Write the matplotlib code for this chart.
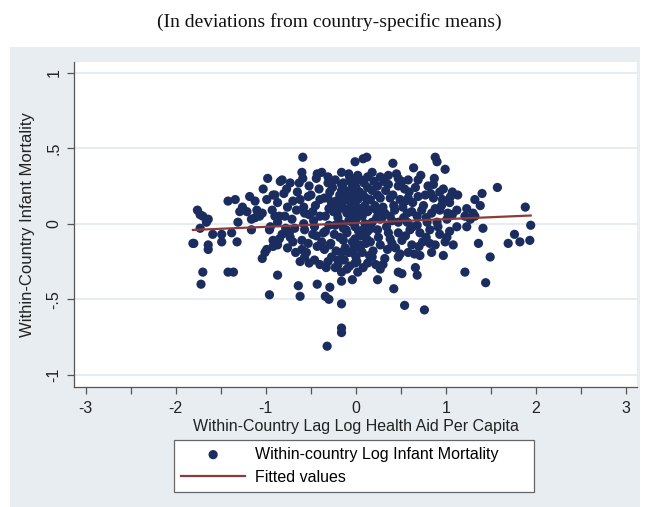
import matplotlib
matplotlib.use("Agg")
import matplotlib.pyplot as plt
from matplotlib.ticker import FixedLocator

# ---- data ----
left_x = [-1.80, -1.76, -1.70, -1.64, -1.70, -1.72, -1.42, -1.36, -0.96, -1.04, -1.01, -1.64,
          -0.98, -1.42, -1.34, -1.18, -1.12, -0.99, -0.92, -1.26, -1.21, -1.10, -1.04, -1.07,
          -1.12, -1.16, -1.29, -1.73, -1.66, -1.31, -1.73, -1.59, -1.49, -1.38, -1.16, -0.96,
          -0.92, -1.81, -1.64, -1.49, -1.32, -0.99, -0.92]
left_y = [-0.13, 0.09, 0.05, 0.03, -0.32, -0.40, -0.32, -0.32, -0.47, -0.23, -0.19, -0.17,
          0.30, 0.15, 0.16, 0.18, 0.15, 0.16, 0.19, 0.11, 0.08, 0.09, 0.07, 0.05,
          0.04, 0.03, 0.08, 0.06, 0.01, 0.01, -0.03, -0.07, -0.07, -0.06, -0.04, -0.04,
          -0.11, -0.13, -0.14, -0.12, -0.12, -0.17, -0.15]

right_x = [1.57, 1.13, 1.40, 1.32, 1.38, 1.23, 1.30, 1.21, 1.27, 1.32, 1.88, 1.12, 1.94, 1.41,
           1.23, 1.12, 1.36, 1.76, 1.69, 1.82, 1.93, 1.49, 1.21, 1.44]
right_y = [0.24, 0.19, 0.20, 0.16, 0.12, 0.10, 0.07, 0.05, 0.03, 0.05, 0.11, 0.09, -0.01, -0.03,
           -0.02, -0.02, -0.13, -0.07, -0.13, -0.12, -0.11, -0.22, -0.32, -0.39]

low_x = [0.97, 0.66, 0.68, 0.47, 0.51, 0.24, 0.42, 0.54, 0.76, 0.30, 0.27, 0.32, 0.18, 0.13,
         0.47, 0.58, 0.71, 0.84, -0.87, -0.64, -0.62, -0.43, -0.29, -0.34, -0.30, -0.16,
         -0.16, -0.16, -0.32, -0.60, -0.57, -0.46, -0.31, -0.20, -0.16, -0.04, 0.07, -0.23,
         -0.16, -0.10, -0.04, -0.16, 0.02, -0.01]
low_y = [-0.21, -0.29, -0.34, -0.32, -0.33, -0.37, -0.43, -0.54, -0.57, -0.27, -0.30, -0.23,
         -0.22, -0.26, -0.22, -0.19, -0.21, -0.19, -0.34, -0.41, -0.48, -0.40, -0.42, -0.48,
         -0.50, -0.53, -0.72, -0.69, -0.81, -0.17, -0.22, -0.24, -0.25, -0.24, -0.19, -0.19,
         -0.19, -0.29, -0.32, -0.30, -0.37, -0.38, -0.32, -0.26]

top_x = [-0.59, -0.01, 0.08, -0.82, -0.73, -0.60, -0.59, -0.43, -0.38, -0.31, -0.16, -0.07,
         -0.26, -0.16, -0.04, -0.01, 0.12, 0.41, 0.64, 0.88, 0.90, 0.99]
top_y = [0.44, 0.41, 0.43, 0.29, 0.27, 0.34, 0.30, 0.33, 0.34, 0.31, 0.34, 0.31,
         0.24, 0.26, 0.25, 0.28, 0.44, 0.40, 0.37, 0.44, 0.41, 0.36]

core_w_x = [-0.84, -0.90, -0.76, -0.87, -0.62, -0.53, -0.79, -0.71, -0.87, -0.57, -0.48, -0.40,
            -0.31, -0.27, -0.18, -0.10, -0.04, 0.02, 0.08, -0.20, -0.10, -0.03, 0.04, -0.68,
            -0.57, -0.46, -0.34, -0.23, -0.14, -0.01, 0.08, -0.82, -0.73, -0.60, -0.53, -0.38,
            -0.29, -0.18, -0.04, 0.04, -0.87, -0.76]
core_w_y = [0.28, 0.19, 0.11, 0.14, 0.16, 0.18, 0.05, 0.03, 0.01, 0.07, 0.08, 0.05,
            0.17, 0.14, 0.19, 0.16, 0.19, 0.16, 0.19, 0.11, 0.07, 0.09, 0.06, -0.03,
            -0.04, -0.02, -0.05, -0.01, -0.03, -0.02, -0.04, -0.07, -0.09, -0.11, -0.13, -0.12,
            -0.14, -0.09, -0.12, -0.14, -0.14, -0.16]

core_e_x = [0.18, 0.27, 0.36, 0.47, 0.58, 0.69, 0.13, 0.24, 0.36, 0.47, 0.54, 0.66, 0.80, 0.86,
            0.97, 1.07, 0.16, 0.27, 0.38, 0.49, 0.58, 0.69, 0.77, 0.86, 0.96, 1.04, 0.13, 0.23,
            0.32, 0.43, 0.52, 0.62, 0.73, 0.84, 0.93, 1.07, 0.18, 0.27, 0.38, 0.47, 0.57, 0.68,
            0.79, 0.90, 1.01, 0.13, 0.24, 0.36, 0.47, 0.60, 0.71, 0.82, 0.93, 1.04, 0.16, 0.27,
            0.40, 0.51, 0.62, 0.74, 0.88, 0.99, 1.08]
core_e_y = [0.34, 0.31, 0.32, 0.30, 0.29, 0.29, 0.24, 0.25, 0.26, 0.25, 0.23, 0.24, 0.25, 0.26,
            0.23, 0.21, 0.16, 0.17, 0.17, 0.16, 0.17, 0.18, 0.19, 0.17, 0.16, 0.14, 0.08, 0.09,
            0.07, 0.09, 0.11, 0.08, 0.09, 0.07, 0.09, 0.06, 0.01, 0.03, 0.05, 0.01, 0.01, -0.01,
            0.01, 0.01, 0.03, -0.05, -0.04, -0.06, -0.06, -0.04, -0.06, -0.04, -0.07, -0.05,
            -0.12, -0.14, -0.13, -0.11, -0.14, -0.12, -0.14, -0.12, -0.14]

center_x = [-0.12, -0.05, 0.00, 0.05, -0.08, 0.00, 0.06, -0.10, -0.02, 0.10, -0.15, 0.02,
            -0.06, 0.09, -0.20, -0.25, -0.30, -0.12, 0.12, 0.00]
center_y = [0.22, 0.12, 0.24, 0.10, 0.02, 0.03, -0.08, -0.06, -0.15, 0.12, 0.14, 0.32,
            0.28, 0.27, 0.04, 0.08, 0.10, -0.16, -0.10, -0.22]

dense_x = [-0.33, -0.27, -0.20, -0.13, -0.07, 0.01, 0.08, 0.15, 0.22,
           -0.35, -0.28, -0.22, -0.14, -0.08, -0.01, 0.05, 0.11, 0.19, 0.25,
           -0.36, -0.30, -0.24, -0.17, -0.11, -0.04, 0.03, 0.10, 0.17, 0.23,
           -0.34, -0.27, -0.21, -0.13, -0.06, 0.01, 0.07, 0.14, 0.21, 0.26,
           -0.35, -0.29, -0.22, -0.16, -0.09, -0.02, 0.04, 0.11, 0.18, 0.24,
           -0.31, -0.23, -0.14, -0.08, -0.03, 0.05, 0.13, 0.20,
           -0.45, -0.52, -0.48, -0.43, -0.55, -0.50, -0.41, -0.66, -0.70, -0.65, -0.78, -0.62, -0.40,
           0.30, 0.34, 0.41, 0.44, 0.53, 0.55, 0.63, 0.65, 0.75, 0.78, 0.83, 0.91, 0.95, 1.01,
           0.33, 0.51, 0.72, 0.38,
           -0.93, -0.85, -0.95, -1.03, -0.80]
dense_y = [-0.29, -0.22, -0.27, -0.24, -0.28, -0.25, -0.29, -0.21, -0.27,
           -0.17, -0.13, -0.18, -0.11, -0.19, -0.10, -0.17, -0.13, -0.18, -0.09,
           -0.06, -0.01, -0.07, 0.00, -0.04, 0.01, -0.05, 0.00, -0.03, 0.04,
           0.05, 0.12, 0.07, 0.10, 0.06, 0.11, 0.05, 0.09, 0.12, 0.07,
           0.17, 0.21, 0.15, 0.22, 0.18, 0.15, 0.21, 0.17, 0.22, 0.19,
           0.27, 0.29, 0.27, 0.33, 0.23, 0.29, 0.31, 0.28,
           0.12, 0.06, -0.07, -0.15, -0.19, 0.19, 0.23, 0.09, -0.12, 0.21, -0.03, -0.25, -0.27,
           0.11, -0.02, 0.19, -0.16, 0.04, -0.08, 0.14, -0.20, 0.12, -0.09, 0.20, -0.02, 0.12, -0.09,
           0.22, 0.28, 0.32, -0.10,
           0.09, 0.05, -0.02, 0.23, 0.20]

extra_x = [0.31, 0.45, 0.59, 0.68, 0.82, 0.87, 0.93, 1.05, 0.42, 0.55, 0.63, 0.70, 0.35, 0.49,
           0.29, 0.40, 0.57, 0.78, 0.88, 1.02,
           -0.44, -0.52, -0.63, -0.70, -0.77, -0.58, -0.47, -0.74, -0.85, -0.67, -0.52, -0.44,
           -0.40, -0.90, -0.58]
extra_y = [0.28, 0.33, 0.21, 0.05, -0.13, 0.30, 0.21, 0.18, 0.12, 0.15, -0.02, -0.15, -0.17, -0.20,
           0.04, 0.02, 0.07, 0.04, 0.10, 0.07,
           0.30, 0.25, 0.27, 0.15, 0.23, 0.00, 0.02, -0.06, -0.10, -0.19, -0.26, -0.08,
           0.16, 0.05, 0.11]

aid_x = left_x + right_x + low_x + top_x + core_w_x + core_e_x + center_x + dense_x + extra_x
mort_y = left_y + right_y + low_y + top_y + core_w_y + core_e_y + center_y + dense_y + extra_y

fit_slope = 0.0255
fit_intercept = 0.005
fit_x = [-1.81, 1.94]
fit_y = [fit_intercept + fit_slope * v for v in fit_x]

x_ticks = [-3, -2, -1, 0, 1, 2, 3]
x_minor = [-2.5, -1.5, -0.5, 0.5, 1.5, 2.5]
y_ticks = [-1, -0.5, 0, 0.5, 1]
y_ticklabels = ["-1", "-.5", "0", ".5", "1"]

title = "(In deviations from country-specific means)"
xlabel = "Within-Country Lag Log Health Aid Per Capita"
ylabel = "Within-Country Infant Mortality"
legend_labels = ["Within-country Log Infant Mortality", "Fitted values"]

# ---- drawing ----
W, H = 646, 507
fig = plt.figure(figsize=(W / 100, H / 100), dpi=100)
fig.patch.set_facecolor("white")
bg = "#e8edf1"
bg_ax = fig.add_axes([10 / W, 0, 630 / W, 1 - 47 / H], zorder=-10)
bg_ax.set_facecolor(bg)
bg_ax.set_xticks([])
bg_ax.set_yticks([])
for s in bg_ax.spines.values():
    s.set_visible(False)

ax = fig.add_axes([74 / W, 1 - 387 / H, (637 - 74) / W, (387 - 62) / H], zorder=1)
ax.set_facecolor("white")
ax.set_xlim(-3.13, 3.12)
ax.set_ylim(-1.08, 1.07)

for yt in y_ticks:
    ax.axhline(yt, color="#e2e9ef", lw=1.2, zorder=1)

navy = "#1b2c5e"
maroon = "#8c3b3b"
sc = ax.scatter(aid_x, mort_y, s=44, color=navy, edgecolors="none", zorder=3)
ln, = ax.plot(fit_x, fit_y, color=maroon, lw=1.6, zorder=4)

for s in ["top", "right"]:
    ax.spines[s].set_visible(False)
for s in ["left", "bottom"]:
    ax.spines[s].set_color("#555555")
    ax.spines[s].set_linewidth(0.9)

font = "Liberation Sans"
ax.set_xticks(x_ticks)
ax.set_xticklabels([str(t) for t in x_ticks], fontfamily=font, fontsize=11.5)
ax.xaxis.set_minor_locator(FixedLocator(x_minor))
ax.set_yticks(y_ticks)
ax.set_yticklabels(y_ticklabels, fontfamily=font, fontsize=11.5, rotation=90, va="center")
ax.tick_params(axis="both", which="both", direction="out", length=5, width=0.9,
               color="#555555", labelcolor="#222222")
ax.tick_params(axis="x", pad=5)
ax.tick_params(axis="y", pad=4)

ax.set_xlabel(xlabel, fontfamily=font, fontsize=11.5, color="#222222", labelpad=2)
ax.set_ylabel(ylabel, fontfamily=font, fontsize=12, color="#222222", labelpad=8)

fig.text(0.5 + 6 / W, 1 - 22 / H, title, ha="center", va="center",
         fontfamily="Liberation Serif", fontsize=14, color="#111111")

leg = fig.legend([sc, ln], legend_labels, loc="lower left",
                 bbox_to_anchor=(174 / W, 1 - 492 / H, 360 / W, 53 / H),
                 mode="expand", borderaxespad=0, frameon=True, fancybox=False, ncol=1,
                 prop={"family": font, "size": 11.5}, handlelength=4.0,
                 borderpad=0.45, labelspacing=0.5, handletextpad=0.6,
                 scatterpoints=1, framealpha=1, facecolor="white")
leg.set_zorder(5)
leg.get_frame().set_edgecolor("#666666")
leg.get_frame().set_linewidth(0.9)

fig.savefig("out.png", dpi=100, facecolor=fig.get_facecolor())
